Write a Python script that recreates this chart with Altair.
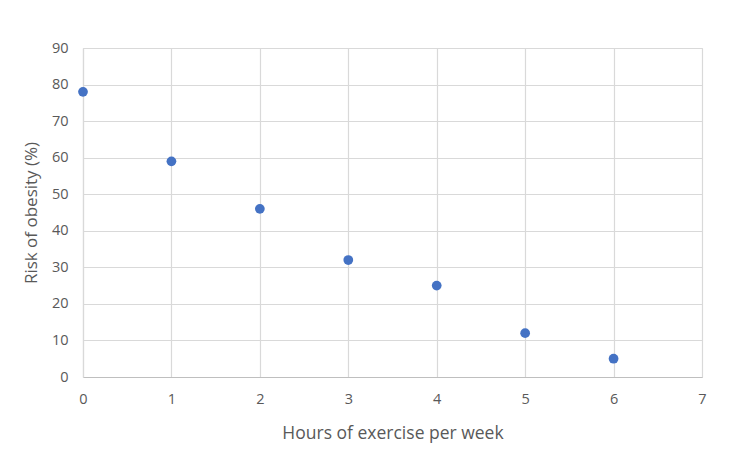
import altair as alt
import pandas as pd

hours = [0, 1, 2, 3, 4, 5, 6]
risk = [78, 59, 46, 32, 25, 12, 5]

df = pd.DataFrame({"hours": hours, "risk": risk})

font = "Open Sans"

chart = alt.Chart(df).mark_circle(size=95, color="#4472C4", opacity=1).encode(
    x=alt.X("hours:Q", scale=alt.Scale(domain=[0, 7], nice=False, zero=False),
            axis=alt.Axis(title="Hours of exercise per week", values=[0, 1, 2, 3, 4, 5, 6, 7],
                          ticks=False, labelPadding=15, titlePadding=19, domainColor="#BFBFBF",
                          gridColor="#D9D9D9", labelColor="#595959", titleColor="#595959",
                          labelFont=font, titleFont=font, labelFontSize=14.5, titleFontSize=17.5,
                          titleFontWeight="normal", labelFlush=False)),
    y=alt.Y("risk:Q", scale=alt.Scale(domain=[0, 90], nice=False),
            axis=alt.Axis(title="Risk of obesity (%)", values=list(range(0, 91, 10)),
                          ticks=False, labelPadding=15, titlePadding=11, domainColor="#D9D9D9",
                          gridColor="#D9D9D9", labelColor="#595959", titleColor="#595959",
                          labelFont=font, titleFont=font, labelFontSize=14.5, titleFontSize=17,
                          titleFontWeight="normal")),
).properties(
    width=619, height=329,
    autosize=alt.AutoSizeParams(type="none"),
    padding={"left": 75, "top": 40, "right": 20, "bottom": 75},
).configure_view(stroke="#D9D9D9", strokeWidth=1).configure_axis(gridWidth=1.2, domainWidth=1.2)

chart.save("out.html", embed_options={"renderer": "svg", "actions": False})
